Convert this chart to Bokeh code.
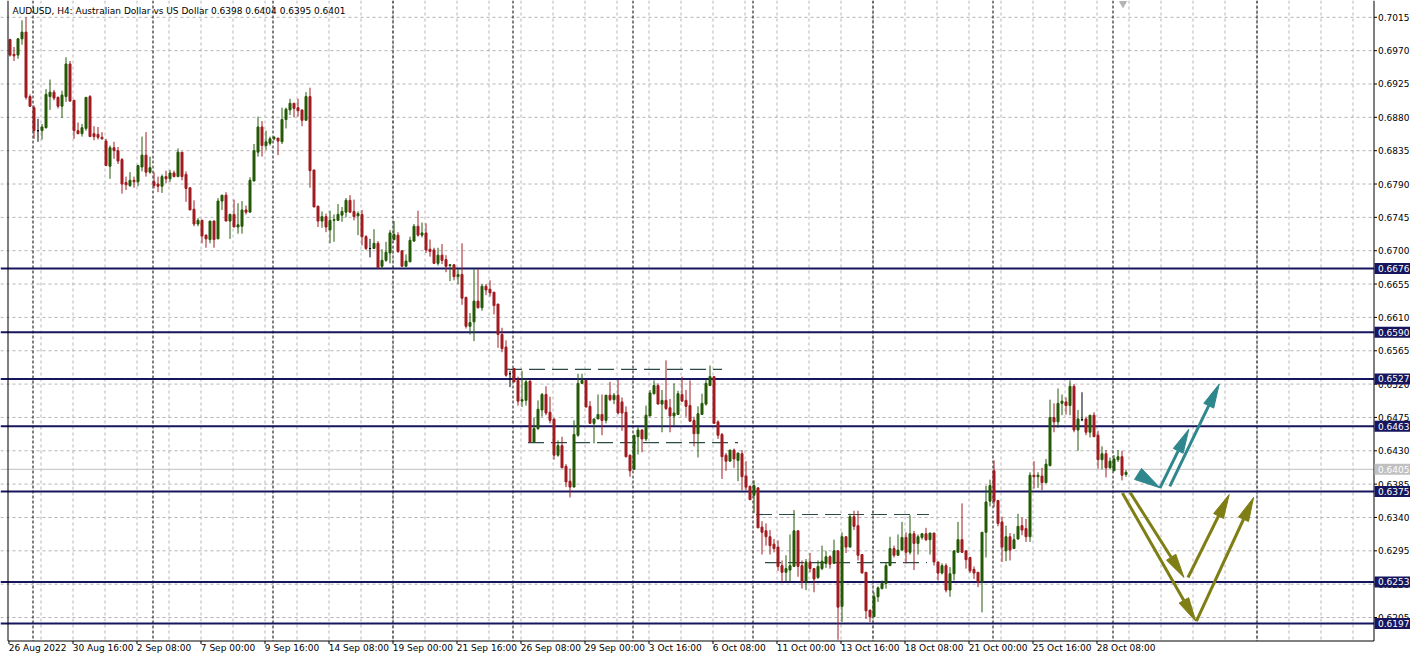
import math
from bokeh.plotting import figure
from bokeh.models import Range1d
from bokeh.core.properties import value
from bokeh.embed import file_html
from bokeh.resources import INLINE

FONT = "DejaVu Sans"

# ---------------- data (AUDUSD H4) ----------------
opens = [
    0.6985, 0.6965, 0.6964, 0.6986, 0.6995, 0.6908, 0.6893, 0.6862, 0.6862, 0.6866,
    0.6908, 0.6914, 0.6907, 0.6895, 0.6908, 0.6952, 0.6903, 0.6862, 0.6858, 0.6865,
    0.6908, 0.6858, 0.6857, 0.6853, 0.6848, 0.6814, 0.6839, 0.6835, 0.6823, 0.6792,
    0.6788, 0.6795, 0.6793, 0.6813, 0.6829, 0.6806, 0.6793, 0.6790, 0.6787, 0.6800,
    0.6797, 0.6805, 0.6800, 0.6833, 0.6803, 0.6785, 0.6756, 0.6736, 0.6741, 0.6721,
    0.6715, 0.6740, 0.6716, 0.6767, 0.6775, 0.6740, 0.6749, 0.6732, 0.6733, 0.6755,
    0.6752, 0.6794, 0.6833, 0.6867, 0.6842, 0.6845, 0.6851, 0.6852, 0.6847, 0.6877,
    0.6890, 0.6899, 0.6893, 0.6890, 0.6876, 0.6908, 0.6809, 0.6760, 0.6740, 0.6746,
    0.6728, 0.6741, 0.6741, 0.6748, 0.6752, 0.6768, 0.6753, 0.6747, 0.6749, 0.6719,
    0.6703, 0.6703, 0.6710, 0.6679, 0.6687, 0.6697, 0.6715, 0.6721, 0.6700, 0.6679,
    0.6685, 0.6713, 0.6733, 0.6721, 0.6724, 0.6702, 0.6701, 0.6683, 0.6694, 0.6688,
    0.6680, 0.6681, 0.6665, 0.6668, 0.6637, 0.6598, 0.6604, 0.6632, 0.6623, 0.6652,
    0.6648, 0.6644, 0.6628, 0.6587, 0.6570, 0.6534, 0.6541, 0.6525, 0.6497, 0.6498,
    0.6524, 0.6442, 0.6460, 0.6485, 0.6506, 0.6482, 0.6473, 0.6424, 0.6437, 0.6409,
    0.6389, 0.6381, 0.6451, 0.6521, 0.6525, 0.6490, 0.6467, 0.6473, 0.6479, 0.6471,
    0.6505, 0.6499, 0.6505, 0.6496, 0.6482, 0.6424, 0.6405, 0.6449, 0.6458, 0.6446,
    0.6477, 0.6507, 0.6518, 0.6493, 0.6498, 0.6488, 0.6477, 0.6479, 0.6506, 0.6498,
    0.6491, 0.6471, 0.6453, 0.6479, 0.6493, 0.6518, 0.6530, 0.6469, 0.6452, 0.6424,
    0.6416, 0.6431, 0.6417, 0.6426, 0.6396, 0.6382, 0.6370, 0.6380, 0.6327, 0.6322,
    0.6314, 0.6304, 0.6300, 0.6275, 0.6266, 0.6269, 0.6274, 0.6322, 0.6275, 0.6254,
    0.6280, 0.6271, 0.6259, 0.6271, 0.6278, 0.6287, 0.6278, 0.6295, 0.6220, 0.6314,
    0.6300, 0.6341, 0.6329, 0.6290, 0.6266, 0.6215, 0.6206, 0.6233, 0.6244, 0.6251,
    0.6275, 0.6298, 0.6289, 0.6296, 0.6313, 0.6293, 0.6318, 0.6305, 0.6313, 0.6318,
    0.6310, 0.6319, 0.6280, 0.6265, 0.6275, 0.6242, 0.6264, 0.6293, 0.6310, 0.6295,
    0.6286, 0.6270, 0.6266, 0.6253, 0.6320, 0.6362, 0.6403, 0.6363, 0.6334, 0.6295,
    0.6314, 0.6298, 0.6311, 0.6329, 0.6325, 0.6314, 0.6397, 0.6395, 0.6396, 0.6387,
    0.6410, 0.6475, 0.6469, 0.6494, 0.6496, 0.6491, 0.6517, 0.6458, 0.6472, 0.6473,
    0.6455, 0.6478, 0.6451, 0.6418, 0.6426, 0.6407, 0.6403, 0.6418, 0.6422, 0.6398,
]
highs = [
    0.6986, 0.6975, 0.6987, 0.7011, 0.7015, 0.6911, 0.6896, 0.6878, 0.6871, 0.6918,
    0.6931, 0.6917, 0.6908, 0.6916, 0.6961, 0.6956, 0.6903, 0.6873, 0.6871, 0.6907,
    0.6910, 0.6868, 0.6867, 0.6860, 0.6851, 0.6842, 0.6847, 0.6840, 0.6825, 0.6800,
    0.6806, 0.6800, 0.6816, 0.6854, 0.6860, 0.6827, 0.6806, 0.6800, 0.6803, 0.6808,
    0.6809, 0.6808, 0.6838, 0.6833, 0.6807, 0.6785, 0.6768, 0.6744, 0.6742, 0.6722,
    0.6740, 0.6741, 0.6771, 0.6775, 0.6779, 0.6750, 0.6769, 0.6764, 0.6767, 0.6761,
    0.6799, 0.6844, 0.6881, 0.6875, 0.6862, 0.6854, 0.6855, 0.6852, 0.6893, 0.6893,
    0.6905, 0.6899, 0.6905, 0.6890, 0.6914, 0.6920, 0.6809, 0.6761, 0.6753, 0.6750,
    0.6754, 0.6749, 0.6763, 0.6759, 0.6771, 0.6775, 0.6769, 0.6753, 0.6755, 0.6721,
    0.6716, 0.6729, 0.6713, 0.6702, 0.6712, 0.6728, 0.6740, 0.6725, 0.6700, 0.6695,
    0.6719, 0.6736, 0.6754, 0.6738, 0.6737, 0.6715, 0.6704, 0.6704, 0.6709, 0.6694,
    0.6682, 0.6682, 0.6676, 0.6710, 0.6638, 0.6616, 0.6675, 0.6675, 0.6655, 0.6655,
    0.6660, 0.6644, 0.6628, 0.6596, 0.6579, 0.6538, 0.6541, 0.6530, 0.6538, 0.6527,
    0.6525, 0.6475, 0.6498, 0.6508, 0.6517, 0.6503, 0.6473, 0.6444, 0.6449, 0.6412,
    0.6406, 0.6471, 0.6534, 0.6534, 0.6525, 0.6497, 0.6473, 0.6506, 0.6506, 0.6505,
    0.6523, 0.6508, 0.6526, 0.6502, 0.6490, 0.6425, 0.6451, 0.6462, 0.6459, 0.6491,
    0.6512, 0.6525, 0.6521, 0.6512, 0.6552, 0.6500, 0.6521, 0.6511, 0.6530, 0.6512,
    0.6525, 0.6476, 0.6490, 0.6507, 0.6526, 0.6545, 0.6530, 0.6471, 0.6454, 0.6427,
    0.6431, 0.6433, 0.6427, 0.6431, 0.6416, 0.6383, 0.6390, 0.6380, 0.6335, 0.6332,
    0.6323, 0.6311, 0.6309, 0.6282, 0.6289, 0.6317, 0.6350, 0.6323, 0.6282, 0.6284,
    0.6292, 0.6272, 0.6282, 0.6302, 0.6295, 0.6289, 0.6310, 0.6296, 0.6320, 0.6314,
    0.6345, 0.6349, 0.6349, 0.6290, 0.6266, 0.6215, 0.6239, 0.6247, 0.6255, 0.6280,
    0.6314, 0.6302, 0.6317, 0.6334, 0.6320, 0.6343, 0.6322, 0.6317, 0.6319, 0.6326,
    0.6319, 0.6319, 0.6280, 0.6278, 0.6278, 0.6273, 0.6295, 0.6334, 0.6359, 0.6295,
    0.6287, 0.6274, 0.6266, 0.6320, 0.6383, 0.6391, 0.6417, 0.6363, 0.6341, 0.6329,
    0.6319, 0.6318, 0.6345, 0.6340, 0.6338, 0.6401, 0.6416, 0.6401, 0.6407, 0.6419,
    0.6499, 0.6494, 0.6514, 0.6506, 0.6502, 0.6525, 0.6520, 0.6485, 0.6509, 0.6476,
    0.6478, 0.6482, 0.6457, 0.6436, 0.6431, 0.6421, 0.6424, 0.6431, 0.6430, 0.6404,
]
lows = [
    0.6962, 0.6956, 0.6959, 0.6978, 0.6904, 0.6894, 0.6851, 0.6847, 0.6850, 0.6865,
    0.6890, 0.6903, 0.6892, 0.6879, 0.6901, 0.6901, 0.6851, 0.6857, 0.6854, 0.6862,
    0.6854, 0.6849, 0.6850, 0.6850, 0.6814, 0.6797, 0.6824, 0.6817, 0.6777, 0.6782,
    0.6786, 0.6785, 0.6787, 0.6807, 0.6800, 0.6804, 0.6784, 0.6779, 0.6778, 0.6791,
    0.6793, 0.6799, 0.6800, 0.6795, 0.6766, 0.6755, 0.6733, 0.6733, 0.6710, 0.6704,
    0.6710, 0.6704, 0.6716, 0.6755, 0.6740, 0.6716, 0.6732, 0.6723, 0.6723, 0.6749,
    0.6752, 0.6794, 0.6827, 0.6827, 0.6836, 0.6842, 0.6849, 0.6829, 0.6844, 0.6865,
    0.6883, 0.6880, 0.6881, 0.6868, 0.6876, 0.6785, 0.6759, 0.6732, 0.6731, 0.6725,
    0.6710, 0.6712, 0.6740, 0.6739, 0.6745, 0.6751, 0.6741, 0.6721, 0.6707, 0.6701,
    0.6691, 0.6703, 0.6676, 0.6676, 0.6685, 0.6683, 0.6714, 0.6697, 0.6679, 0.6679,
    0.6685, 0.6712, 0.6719, 0.6718, 0.6697, 0.6692, 0.6682, 0.6680, 0.6682, 0.6671,
    0.6659, 0.6660, 0.6655, 0.6627, 0.6595, 0.6587, 0.6578, 0.6622, 0.6619, 0.6640,
    0.6638, 0.6614, 0.6569, 0.6563, 0.6530, 0.6516, 0.6523, 0.6491, 0.6489, 0.6491,
    0.6442, 0.6442, 0.6458, 0.6476, 0.6478, 0.6467, 0.6418, 0.6422, 0.6407, 0.6381,
    0.6367, 0.6381, 0.6449, 0.6520, 0.6489, 0.6467, 0.6440, 0.6473, 0.6451, 0.6467,
    0.6497, 0.6493, 0.6479, 0.6457, 0.6421, 0.6395, 0.6405, 0.6425, 0.6428, 0.6443,
    0.6477, 0.6506, 0.6493, 0.6455, 0.6485, 0.6455, 0.6464, 0.6479, 0.6496, 0.6476,
    0.6469, 0.6436, 0.6421, 0.6479, 0.6491, 0.6518, 0.6467, 0.6446, 0.6392, 0.6403,
    0.6416, 0.6407, 0.6389, 0.6377, 0.6377, 0.6364, 0.6346, 0.6326, 0.6290, 0.6302,
    0.6290, 0.6293, 0.6268, 0.6253, 0.6254, 0.6254, 0.6274, 0.6260, 0.6244, 0.6242,
    0.6266, 0.6239, 0.6257, 0.6269, 0.6272, 0.6271, 0.6278, 0.6175, 0.6199, 0.6292,
    0.6300, 0.6323, 0.6282, 0.6265, 0.6203, 0.6199, 0.6206, 0.6226, 0.6243, 0.6244,
    0.6275, 0.6286, 0.6289, 0.6296, 0.6278, 0.6290, 0.6269, 0.6290, 0.6310, 0.6308,
    0.6290, 0.6275, 0.6255, 0.6263, 0.6239, 0.6233, 0.6255, 0.6293, 0.6292, 0.6271,
    0.6265, 0.6257, 0.6246, 0.6212, 0.6286, 0.6355, 0.6354, 0.6328, 0.6280, 0.6281,
    0.6282, 0.6298, 0.6310, 0.6316, 0.6307, 0.6307, 0.6379, 0.6380, 0.6377, 0.6386,
    0.6409, 0.6455, 0.6461, 0.6478, 0.6479, 0.6478, 0.6455, 0.6430, 0.6470, 0.6451,
    0.6448, 0.6449, 0.6406, 0.6405, 0.6394, 0.6406, 0.6403, 0.6415, 0.6390, 0.6395,
]
closes = [
    0.6964, 0.6963, 0.6986, 0.6995, 0.6907, 0.6895, 0.6862, 0.6862, 0.6867, 0.6911,
    0.6914, 0.6906, 0.6895, 0.6910, 0.6952, 0.6902, 0.6862, 0.6858, 0.6866, 0.6907,
    0.6854, 0.6854, 0.6853, 0.6851, 0.6815, 0.6839, 0.6835, 0.6821, 0.6790, 0.6789,
    0.6795, 0.6793, 0.6815, 0.6829, 0.6806, 0.6812, 0.6788, 0.6787, 0.6800, 0.6797,
    0.6805, 0.6800, 0.6833, 0.6800, 0.6784, 0.6755, 0.6736, 0.6741, 0.6720, 0.6716,
    0.6740, 0.6715, 0.6767, 0.6775, 0.6740, 0.6749, 0.6732, 0.6735, 0.6755, 0.6752,
    0.6795, 0.6835, 0.6867, 0.6842, 0.6847, 0.6851, 0.6853, 0.6848, 0.6877, 0.6891,
    0.6899, 0.6892, 0.6889, 0.6876, 0.6908, 0.6808, 0.6759, 0.6740, 0.6746, 0.6732,
    0.6741, 0.6742, 0.6749, 0.6753, 0.6768, 0.6752, 0.6746, 0.6750, 0.6719, 0.6703,
    0.6703, 0.6710, 0.6677, 0.6687, 0.6698, 0.6724, 0.6722, 0.6699, 0.6679, 0.6686,
    0.6714, 0.6733, 0.6721, 0.6724, 0.6701, 0.6699, 0.6683, 0.6694, 0.6687, 0.6679,
    0.6681, 0.6665, 0.6668, 0.6636, 0.6598, 0.6603, 0.6632, 0.6623, 0.6652, 0.6647,
    0.6643, 0.6626, 0.6587, 0.6568, 0.6532, 0.6534, 0.6523, 0.6497, 0.6499, 0.6523,
    0.6442, 0.6460, 0.6486, 0.6506, 0.6481, 0.6471, 0.6424, 0.6437, 0.6407, 0.6388,
    0.6381, 0.6452, 0.6521, 0.6525, 0.6489, 0.6467, 0.6473, 0.6479, 0.6471, 0.6505,
    0.6499, 0.6505, 0.6481, 0.6481, 0.6422, 0.6403, 0.6451, 0.6458, 0.6446, 0.6478,
    0.6508, 0.6518, 0.6493, 0.6498, 0.6487, 0.6477, 0.6481, 0.6507, 0.6497, 0.6490,
    0.6470, 0.6453, 0.6480, 0.6494, 0.6521, 0.6530, 0.6467, 0.6451, 0.6422, 0.6416,
    0.6431, 0.6419, 0.6427, 0.6395, 0.6381, 0.6364, 0.6383, 0.6326, 0.6320, 0.6314,
    0.6302, 0.6298, 0.6274, 0.6266, 0.6271, 0.6275, 0.6322, 0.6274, 0.6253, 0.6280,
    0.6271, 0.6257, 0.6274, 0.6281, 0.6287, 0.6277, 0.6295, 0.6219, 0.6314, 0.6300,
    0.6341, 0.6328, 0.6289, 0.6265, 0.6214, 0.6206, 0.6233, 0.6245, 0.6251, 0.6275,
    0.6298, 0.6289, 0.6296, 0.6313, 0.6293, 0.6318, 0.6305, 0.6314, 0.6318, 0.6310,
    0.6319, 0.6280, 0.6265, 0.6275, 0.6242, 0.6264, 0.6295, 0.6310, 0.6293, 0.6283,
    0.6268, 0.6265, 0.6253, 0.6320, 0.6361, 0.6383, 0.6362, 0.6332, 0.6300, 0.6314,
    0.6296, 0.6310, 0.6328, 0.6323, 0.6314, 0.6397, 0.6395, 0.6397, 0.6387, 0.6412,
    0.6475, 0.6469, 0.6494, 0.6497, 0.6491, 0.6517, 0.6458, 0.6473, 0.6472, 0.6455,
    0.6478, 0.6449, 0.6418, 0.6426, 0.6407, 0.6416, 0.6419, 0.6422, 0.6397, 0.6401,
]

x_label_idx = [0, 16, 32, 48, 64, 80, 96, 112, 128, 144, 160, 176, 192, 208, 224, 240, 256, 272]
x_label_text = ["26 Aug 2022", "30 Aug 16:00", "2 Sep 08:00", "7 Sep 00:00", "9 Sep 16:00",
                "14 Sep 08:00", "19 Sep 00:00", "21 Sep 16:00", "26 Sep 08:00", "29 Sep 00:00",
                "3 Oct 16:00", "6 Oct 08:00", "11 Oct 00:00", "13 Oct 16:00", "18 Oct 08:00",
                "21 Oct 00:00", "25 Oct 16:00", "28 Oct 08:00"]
week_separators = [6, 36, 66, 96, 126, 156, 186, 216, 246, 276, 312]
price_ticks = [0.7015, 0.6970, 0.6925, 0.6880, 0.6835, 0.6790, 0.6745, 0.6700, 0.6655, 0.6610,
               0.6565, 0.6520, 0.6475, 0.6430, 0.6385, 0.6340, 0.6295, 0.6250, 0.6205]
levels = [0.6676, 0.6590, 0.6527, 0.6463, 0.6375, 0.6253, 0.6197]
bid_price = 0.6405
title_text = "AUDUSD, H4:  Australian Dollar vs US Dollar  0.6398 0.6404 0.6395 0.6401"

# dashed range lines (bar index start / end, price)
range_x0 = [124, 129.5, 186.5, 188.75]
range_x1 = [178, 182, 229.75, 229.25]
range_y = [0.6540, 0.6441, 0.6344, 0.6279]

# scenario arrows (bar index, price): start -> tip
teal_arrows = [(281.95, 0.6399, 287.5, 0.6380),
               (287.5, 0.6380, 294.7, 0.6459),
               (289.95, 0.6382, 302.3, 0.6520)]
olive_arrows = [(280.0, 0.6374, 293.5, 0.6259),
                (278.1, 0.6373, 296.45, 0.6200),
                (294.5, 0.6259, 304.8, 0.6371),
                (296.6, 0.6200, 310.9, 0.6367)]

# ---------------- layout / scales ----------------
W, H = 1410, 654
PXX = 4.0            # pixels per bar
PXY = 7410.0         # pixels per price unit
X_START = -9.5 / PXX
Y_TOP = 0.6676 + 268 / PXY


def xd(px):
    return X_START + px / PXX


def yd(py):
    return Y_TOP - py / PXY


AX_X = 1373.5        # right axis line (px)
AX_Y = 640.5         # bottom axis line (px)

p = figure(width=W, height=H,
           x_range=Range1d(X_START, X_START + W / PXX),
           y_range=Range1d(Y_TOP - H / PXY, Y_TOP),
           x_axis_location=None, y_axis_location=None,
           output_backend="svg", toolbar_location=None,
           min_border=0, min_border_left=0, min_border_right=0,
           min_border_top=0, min_border_bottom=0)
p.grid.visible = False
p.outline_line_color = None
p.background_fill_color = "white"
p.border_fill_color = "white"

GRID_C = "#B4B4B4"
# horizontal grid at price ticks
p.segment(x0=[xd(0)] * len(price_ticks), y0=price_ticks,
          x1=[xd(AX_X)] * len(price_ticks), y1=price_ticks,
          line_color=GRID_C, line_width=1, line_dash="3 3")
# vertical grid every 8 bars
grid_idx = [g - 0.25 for g in range(8, 344, 8)]
p.segment(x0=grid_idx, y0=[yd(0)] * len(grid_idx), x1=grid_idx, y1=[yd(AX_Y)] * len(grid_idx),
          line_color=GRID_C, line_width=1, line_dash="3 3")

# week separators
sep_x = [s - 0.25 for s in week_separators]
p.segment(x0=sep_x, y0=[yd(0)] * len(sep_x), x1=sep_x, y1=[yd(AX_Y)] * len(sep_x),
          line_color="black", line_width=1, line_dash="3 2")

# bid line
p.segment(x0=[xd(0)], y0=[bid_price], x1=[xd(AX_X)], y1=[bid_price],
          line_color="#C0C0C0", line_width=1)

# horizontal levels
NAVY = "#16165E"
p.segment(x0=[xd(0)] * len(levels), y0=levels, x1=[xd(AX_X)] * len(levels), y1=levels,
          line_color=NAVY, line_width=2)

# dashed range lines
p.segment(x0=range_x0, y0=range_y, x1=range_x1, y1=range_y,
          line_color="#2B4A48", line_width=1.2, line_dash="16 7")

# candles
idx = list(range(len(opens)))
UP, DN, DOJI = "#245A06", "#A01C20", "#000000"
cols = [UP if c > o else (DN if c < o else DOJI) for o, c in zip(opens, closes)]
tops = [max(o, c) for o, c in zip(opens, closes)]
bots = [min(o, c) for o, c in zip(opens, closes)]
p.segment(x0=idx, y0=lows, x1=idx, y1=highs, line_color=cols, line_width=1)
p.vbar(x=idx, width=0.5, top=tops, bottom=bots, fill_color=cols, line_color=cols, line_width=1)


def draw_arrow(x0, y0, x1, y1, color, L=24.0, Wd=5.5, lw=3):
    dx = (x1 - x0) * PXX
    dy = (y1 - y0) * PXY
    n = math.hypot(dx, dy)
    ux, uy = dx / n, dy / n
    bx, by = x1 - ux * L / PXX, y1 - uy * L / PXY
    lx, ly = bx - uy * Wd / PXX, by + ux * Wd / PXY
    rx, ry = bx + uy * Wd / PXX, by - ux * Wd / PXY
    if n > L + 1:
        p.line([x0, bx], [y0, by], line_color=color, line_width=lw)
    p.patch([x1, lx, rx], [y1, ly, ry], fill_color=color, line_color=color, line_width=1)


TEAL, OLIVE = "#2E878C", "#7E7E14"
draw_arrow(*teal_arrows[0], TEAL, L=26.0, Wd=6.5)
for a in teal_arrows[1:]:
    draw_arrow(*a, TEAL)
for a in olive_arrows:
    draw_arrow(*a, OLIVE)

# frame lines and axes
p.segment(x0=[xd(7.5), xd(AX_X), xd(7.5)], y0=[yd(0), yd(0), yd(AX_Y)],
          x1=[xd(7.5), xd(AX_X), xd(AX_X)], y1=[yd(AX_Y), yd(AX_Y), yd(AX_Y)],
          line_color="black", line_width=1)
# right axis ticks + labels
p.segment(x0=[xd(AX_X)] * len(price_ticks), y0=price_ticks,
          x1=[xd(AX_X + 3)] * len(price_ticks), y1=price_ticks,
          line_color="black", line_width=1)
p.text(x=[xd(AX_X + 4)] * len(price_ticks), y=price_ticks,
       text=[f"{t:.4f}" for t in price_ticks], text_font=value(FONT), text_font_size="9px",
       text_color="black", text_baseline="middle", text_align="left")
# bottom axis ticks + labels
p.segment(x0=[i - 0.25 for i in x_label_idx], y0=[yd(AX_Y)] * len(x_label_idx),
          x1=[i - 0.25 for i in x_label_idx], y1=[yd(AX_Y + 3)] * len(x_label_idx),
          line_color="black", line_width=1)
p.text(x=[i - 0.3 for i in x_label_idx], y=[yd(AX_Y + 2)] * len(x_label_idx),
       text=x_label_text, text_font=value(FONT), text_font_size="9px",
       text_color="black", text_baseline="top", text_align="left")

# level price boxes on the axis
half = 5.5 / PXY
p.quad(left=[xd(AX_X + 0.5)] * len(levels), right=[xd(W)] * len(levels),
       top=[lv + half for lv in levels], bottom=[lv - half for lv in levels],
       fill_color=NAVY, line_color=None)
p.text(x=[xd(AX_X + 4)] * len(levels), y=levels, text=[f"{lv:.4f}" for lv in levels],
       text_font=value(FONT), text_font_size="9px", text_color="white",
       text_baseline="middle", text_align="left")
p.quad(left=[xd(AX_X + 0.5)], right=[xd(W)], top=[bid_price + half], bottom=[bid_price - half],
       fill_color="#C0C0C0", line_color=None)
p.text(x=[xd(AX_X + 4)], y=[bid_price], text=[f"{bid_price:.4f}"],
       text_font=value(FONT), text_font_size="9px", text_color="white",
       text_baseline="middle", text_align="left")

# chart shift marker
p.scatter(x=[278.25], y=[yd(3)], marker="inverted_triangle", size=7,
          fill_color="#B4B4B4", line_color="#B4B4B4")

# title
p.text(x=[xd(12)], y=[yd(5)], text=[title_text], text_font=value(FONT), text_font_size="9px",
       text_color="black", text_baseline="top", text_align="left")

open("out.html", "w").write(file_html(p, INLINE))
